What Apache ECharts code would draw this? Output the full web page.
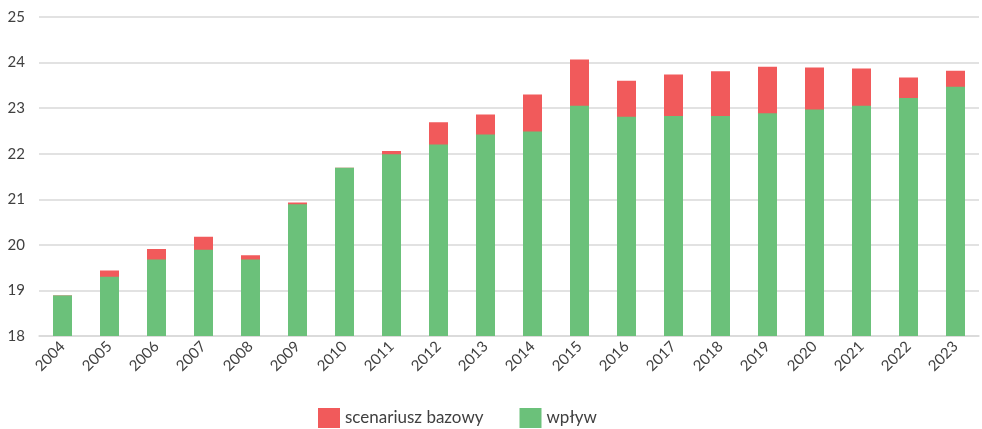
<!DOCTYPE html>
<html>
<head>
<meta charset="utf-8">
<script src="https://cdn.jsdelivr.net/npm/echarts@6/dist/echarts.min.js"></script>
<style>
  html, body { margin: 0; padding: 0; background: #fff; }
  #chart { width: 982px; height: 429px; }
</style>
</head>
<body>
<div id="chart"></div>
<script>
// lata
const years = ['2004', '2005', '2006', '2007', '2008', '2009', '2010', '2011', '2012', '2013',
  '2014', '2015', '2016', '2017', '2018', '2019', '2020', '2021', '2022', '2023'];
// scenariusz bazowy (poziom całkowity)
const scenariuszBazowy = [18.89, 19.44, 19.91, 20.18, 19.77, 20.93, 21.69, 22.06, 22.69, 22.86,
  23.3, 24.07, 23.6, 23.74, 23.81, 23.91, 23.89, 23.87, 23.67, 23.82];
// wpływ
const wplyw = [18.89, 19.3, 19.68, 19.89, 19.68, 20.89, 21.69, 21.99, 22.2, 22.42,
  22.49, 23.05, 22.81, 22.83, 22.83, 22.89, 22.97, 23.05, 23.22, 23.47];

const fontFamily = 'Lato, "Open Sans", sans-serif';

const chart = echarts.init(document.getElementById('chart'));
const option = {
  animation: false,
  grid: { left: 39, right: 3, top: 17, bottom: 93 },
  legend: {
    left: 318,
    top: 408,
    padding: 0,
    itemWidth: 22,
    itemHeight: 20,
    itemGap: 36,
    icon: 'rect',
    textStyle: { fontFamily: fontFamily, fontSize: 17, color: '#404040' },
    data: ['scenariusz bazowy', 'wpływ']
  },
  xAxis: {
    type: 'category',
    data: years,
    axisLine: { lineStyle: { color: '#d9d9d9', width: 1.5 } },
    axisTick: { show: false },
    axisLabel: {
      rotate: 45,
      fontFamily: fontFamily,
      fontSize: 15,
      color: '#404040',
      margin: 8
    }
  },
  yAxis: {
    type: 'value',
    min: 18,
    max: 25,
    interval: 1,
    axisLine: { show: false },
    axisTick: { show: false },
    axisLabel: { fontFamily: fontFamily, fontSize: 15, color: '#404040', margin: 14 },
    splitLine: { lineStyle: { color: '#d9d9d9', width: 1.5 } }
  },
  series: [
    {
      name: 'scenariusz bazowy',
      type: 'bar',
      data: scenariuszBazowy,
      barWidth: 19,
      barGap: '-100%',
      itemStyle: { color: '#f15a5b' }
    },
    {
      name: 'wpływ',
      type: 'bar',
      data: wplyw,
      barWidth: 19,
      itemStyle: { color: '#6bc17a' }
    }
  ]
};
chart.setOption(option);
</script>
</body>
</html>
